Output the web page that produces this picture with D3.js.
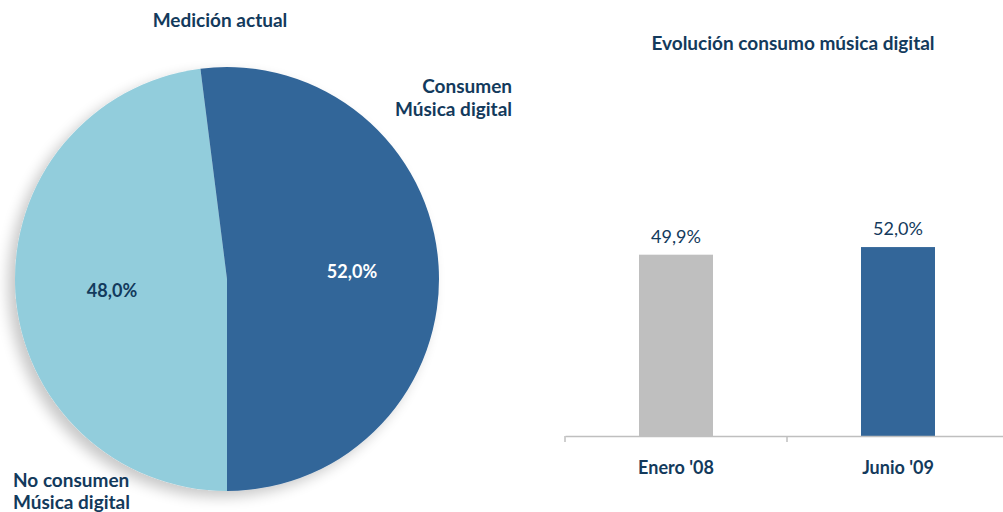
<!DOCTYPE html>
<html>
<head>
<meta charset="utf-8">
<script src="https://cdn.jsdelivr.net/npm/d3@7/dist/d3.min.js"></script>
<style>
  html, body { margin: 0; padding: 0; background: #fff; }
  svg { display: block; font-family: Lato, "Open Sans", sans-serif; }
</style>
</head>
<body>
<svg id="chart" width="1003" height="512"></svg>
<script>
// Pie: current measurement
const pieLabels = ["No consumen Música digital", "Consumen Música digital"];
const pieValues = [48.0, 52.0];
const pieColors = ["#92CDDC", "#336699"];

// Bars: evolution over time
const barCategories = ["Enero '08", "Junio '09"];
const barValues = [49.9, 52.0];
const barColors = ["#BFBFBF", "#336699"];

const textColor = "#133A5C";
const fmt = v => v.toFixed(1).replace(".", ",") + "%";

const svg = d3.select("#chart");

// soft shadow under the pie
const defs = svg.append("defs");
const f = defs.append("filter").attr("id", "pieShadow")
  .attr("x", "-20%").attr("y", "-20%").attr("width", "140%").attr("height", "140%");
f.append("feGaussianBlur").attr("in", "SourceAlpha").attr("stdDeviation", 7).attr("result", "b");
f.append("feOffset").attr("in", "b").attr("dx", -7).attr("dy", 6).attr("result", "o");
f.append("feComponentTransfer").attr("in", "o").attr("result", "s")
  .append("feFuncA").attr("type", "linear").attr("slope", 0.22);
const fm = f.append("feMerge");
fm.append("feMergeNode").attr("in", "s");
fm.append("feMergeNode").attr("in", "SourceGraphic");

// ---- Pie ----
const cx = 227, cy = 279, r = 212;
const pie = d3.pie().sort(null).value(d => d).startAngle(Math.PI).endAngle(3 * Math.PI);
const arc = d3.arc().innerRadius(0).outerRadius(r);
const arcs = pie(pieValues);

const pg = svg.append("g").attr("transform", `translate(${cx},${cy})`);
pg.append("g").attr("filter", "url(#pieShadow)")
  .selectAll("path").data(arcs).join("path")
  .attr("d", arc)
  .attr("fill", (d, i) => pieColors[i]);

// value labels inside the slices
const labelOffsets = [[-115, 18], [125, -1]];
pg.selectAll("text.val").data(arcs).join("text")
  .attr("class", "val")
  .attr("transform", (d, i) => `translate(${labelOffsets[i][0]},${labelOffsets[i][1]})`)
  .attr("text-anchor", "middle")
  .attr("font-size", 18).attr("font-weight", 700)
  .attr("fill", (d, i) => i === 0 ? textColor : "#fff")
  .text(d => fmt(d.data));

svg.append("text").attr("x", 220).attr("y", 27)
  .attr("text-anchor", "middle").attr("font-size", 19).attr("font-weight", 700)
  .attr("fill", textColor).text("Medición actual");

const cons = svg.append("text").attr("text-anchor", "end")
  .attr("font-size", 19).attr("font-weight", 700).attr("fill", textColor);
cons.append("tspan").attr("x", 512).attr("y", 93).text("Consumen");
cons.append("tspan").attr("x", 512).attr("y", 116).text("Música digital");

const nocons = svg.append("text").attr("text-anchor", "start")
  .attr("font-size", 19).attr("font-weight", 700).attr("fill", textColor);
nocons.append("tspan").attr("x", 13).attr("y", 487).text("No consumen");
nocons.append("tspan").attr("x", 13).attr("y", 509).text("Música digital");

// ---- Bars ----
const x = d3.scaleBand().domain(barCategories).range([565, 1009]).paddingInner(0).paddingOuter(0);
const y = d3.scaleLinear().domain([0, 60]).range([436, 218]);
const bw = x.bandwidth() / 3;

svg.append("text").attr("x", 793).attr("y", 50)
  .attr("text-anchor", "middle").attr("font-size", 19).attr("font-weight", 700)
  .attr("fill", textColor).text("Evolución consumo música digital");

svg.selectAll("rect.bar").data(barValues).join("rect")
  .attr("class", "bar")
  .attr("x", (d, i) => x(barCategories[i]) + x.bandwidth() / 2 - bw / 2)
  .attr("width", bw)
  .attr("y", d => y(d))
  .attr("height", d => y(0) - y(d))
  .attr("fill", (d, i) => barColors[i]);

svg.selectAll("text.bv").data(barValues).join("text")
  .attr("class", "bv")
  .attr("x", (d, i) => x(barCategories[i]) + x.bandwidth() / 2)
  .attr("y", d => y(d) - 12)
  .attr("text-anchor", "middle").attr("font-size", 18)
  .attr("fill", textColor).text(d => fmt(d));

// category axis
const axis = svg.append("g").attr("transform", `translate(0,${y(0)})`)
  .call(d3.axisBottom(x).tickSize(0).tickPadding(25));
axis.select(".domain").attr("stroke", "#BFBFBF").attr("stroke-width", 1.5);
axis.selectAll(".tick text")
  .attr("font-family", "Lato, 'Open Sans', sans-serif")
  .attr("font-size", 18).attr("font-weight", 700).attr("fill", textColor);
// band boundary ticks
axis.selectAll("line.sep").data(x.domain()).join("line")
  .attr("class", "sep")
  .attr("x1", d => x(d)).attr("x2", d => x(d))
  .attr("y1", 0).attr("y2", 6)
  .attr("stroke", "#BFBFBF").attr("stroke-width", 1.5);
</script>
</body>
</html>
